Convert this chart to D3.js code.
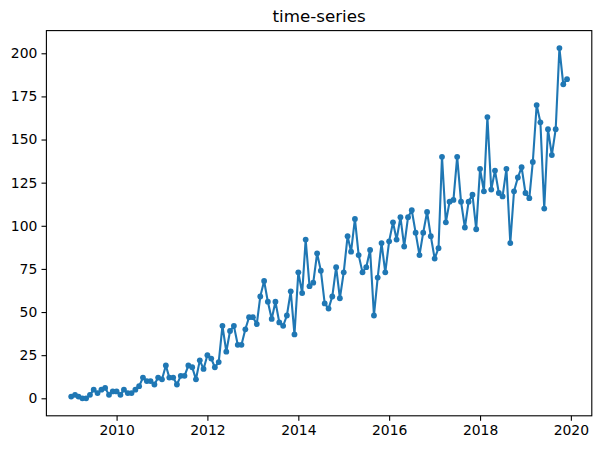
<!DOCTYPE html>
<html>
<head>
<meta charset="utf-8">
<script src="https://cdn.jsdelivr.net/npm/d3@7"></script>
<style>
  body { margin: 0; background: #fff; }
  svg { display: block; font-family: "DejaVu Sans", sans-serif; }
</style>
</head>
<body>
<svg id="chart" width="598" height="449"></svg>
<script>
// monthly values, Jan 2009 .. Dec 2019
var firstMonth = "2009-01-01";
var lastMonth = "2019-12-01";
var values = [
  1, 2, 1, 0, 0, 2, 5, 3, 5, 6, 2, 4,
  4, 2, 5, 3, 3, 5, 7, 12, 10, 10, 8, 12,
  11, 19, 12, 12, 8, 13, 13, 19, 18, 11, 22, 17,
  25, 23, 18, 21, 42, 27, 39, 42, 31, 31, 40, 47,
  47, 43, 59, 68, 56, 46, 56, 44, 42, 48, 62, 37,
  73, 61, 92, 65, 67, 84, 74, 55, 52, 59, 76, 58,
  73, 94, 85, 104, 83, 73, 76, 86, 48, 70, 90, 73,
  91, 102, 92, 105, 88, 105, 109, 96, 83, 96, 108, 94,
  81, 87, 140, 102, 114, 115, 140, 114, 99, 114, 118, 98,
  133, 120, 163, 121, 132, 119, 117, 133, 90, 120, 128, 134,
  119, 116, 137, 170, 160, 110, 156, 141, 156, 203, 182, 185
];
var xTickYears = [2010, 2012, 2014, 2016, 2018, 2020];
var yTicks = [0, 25, 50, 75, 100, 125, 150, 175, 200];
var title = "time-series";

var svg = d3.select("#chart");
var plotLeft = 46.4, plotRight = 591.8, plotTop = 30.6, plotBottom = 415.8;

var start = new Date(firstMonth + "T00:00:00");
var end = new Date(lastMonth + "T00:00:00");
var months = d3.timeMonth.range(start, d3.timeMonth.offset(end, 1));
var data = months.map(function(d, i) { return {date: d, value: values[i]}; });

//5% margins like matplotlib
var span = end - start;
var x = d3.scaleTime()
    .domain([new Date(+start - span * 0.05), new Date(+end + span * 0.05)])
    .range([plotLeft, plotRight]);
var vmax = d3.max(values), vmin = d3.min(values);
var y = d3.scaleLinear()
    .domain([vmin - (vmax - vmin) * 0.05, vmax + (vmax - vmin) * 0.05])
    .range([plotBottom, plotTop]);

var color = "#1f77b4";

var line = d3.line()
    .x(function(d) { return x(d.date); })
    .y(function(d) { return y(d.value); });

svg.append("path")
    .datum(data)
    .attr("d", line)
    .attr("fill", "none")
    .attr("stroke", color)
    .attr("stroke-width", 2.1)
    .attr("stroke-linejoin", "round")
    .attr("stroke-linecap", "square");

svg.append("g").selectAll("circle")
    .data(data)
    .enter().append("circle")
    .attr("cx", function(d) { return x(d.date); })
    .attr("cy", function(d) { return y(d.value); })
    .attr("r", 2.9)
    .attr("fill", color);

//axes
var xAxis = d3.axisBottom(x)
    .tickValues(xTickYears.map(function(yr) { return new Date(yr, 0, 1); }))
    .tickFormat(d3.timeFormat("%Y"))
    .tickSize(4.9).tickPadding(4.2);
var yAxis = d3.axisLeft(y)
    .tickValues(yTicks)
    .tickSize(4.9).tickPadding(4.2);

var gx = svg.append("g").attr("transform", "translate(0," + plotBottom + ")").call(xAxis);
var gy = svg.append("g").attr("transform", "translate(" + plotLeft + ",0)").call(yAxis);
[gx, gy].forEach(function(g) {
  g.select(".domain").remove();
  g.selectAll(".tick line").attr("stroke", "#000").attr("stroke-width", 1.1);
  g.selectAll(".tick text").attr("fill", "#000")
      .style("font-size", "13.9px").style("font-family", "DejaVu Sans");
});

svg.append("rect")
    .attr("x", plotLeft).attr("y", plotTop)
    .attr("width", plotRight - plotLeft).attr("height", plotBottom - plotTop)
    .attr("fill", "none").attr("stroke", "#000").attr("stroke-width", 1.1);

svg.append("text")
    .attr("x", (plotLeft + plotRight) / 2)
    .attr("y", plotTop - 8.3)
    .attr("text-anchor", "middle")
    .style("font-size", "16.7px")
    .style("font-family", "DejaVu Sans")
    .text(title);
</script>
</body>
</html>
